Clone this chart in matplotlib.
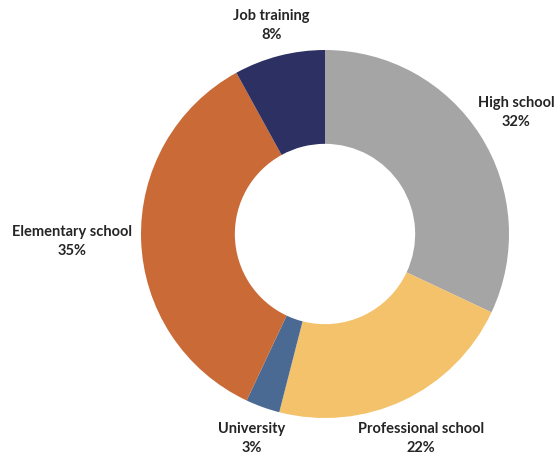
import numpy as np
import matplotlib
matplotlib.use("Agg")
import matplotlib.pyplot as plt

plt.rcParams['font.family'] = ['Lato', 'DejaVu Sans']

# education levels, clockwise from 12 o'clock
categories = ["High school", "Professional school", "University",
              "Elementary school", "Job training"]
shares = [32, 22, 3, 35, 8]
colors = ["#A5A5A5", "#F3C26B", "#4A6A93", "#C96A37", "#2D3063"]

# how far out each label sits (in radii)
label_dist = [1.23, 1.23, 1.18, 1.375, 1.17]

fig = plt.figure(figsize=(5.59, 4.54), dpi=100)
ax = fig.add_axes([0, 0, 1, 1])

R = 184.0  # outer radius in pixels
cx, cy = 325.0, 234.0
wedges, _ = ax.pie(shares, colors=colors, startangle=90, counterclock=False,
                   radius=1.0, wedgeprops=dict(width=0.51, linewidth=0))

for w, name, val, d in zip(wedges, categories, shares, label_dist):
    ang = np.deg2rad((w.theta1 + w.theta2) / 2)
    x, y = d * np.cos(ang), d * np.sin(ang)
    ax.text(x, y, f"{name}\n{val}%", ha="center", va="center",
            fontsize=10.5, fontweight="bold", color="#252525", linespacing=1.45)

ax.set_xlim(-cx / R, (559 - cx) / R)
ax.set_ylim(-(454 - cy) / R, cy / R)
ax.set_aspect("auto")
ax.axis("off")

fig.savefig("out.png", dpi=100)
